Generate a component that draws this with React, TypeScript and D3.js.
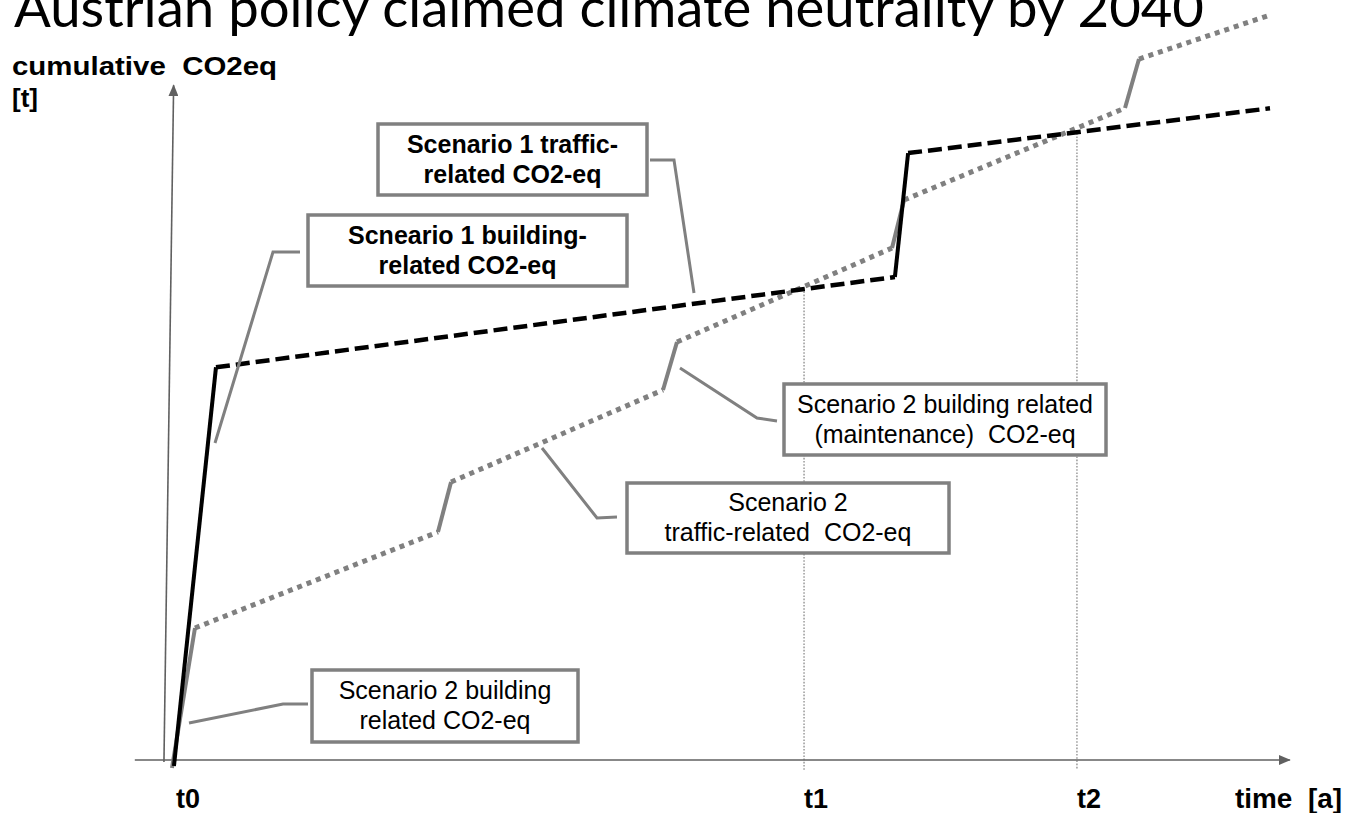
import React from "react";
import * as d3 from "d3";

const W = 1346;
const H = 813;

const titleText = "Austrian policy claimed climate neutrality by 2040";
const yAxisTitle = ["cumulative  CO2eq", "[t]"];
const xAxisTitle = "time  [a]";
const tickLabels = ["t0", "t1", "t2"];
const tickTimes = [0.27, 57.64, 82.45];
const guideTimes = [57.64, 82.45];
const guideTops = [67.4, 90.0];

// Scenario 1 – building (solid) and traffic (dashed) phases
const s1Time = [0.36, 4.18, 65.9, 67.1, 100];
const s1CO2 = [-0.86, 56.1, 69.0, 86.7, 93.1];
const s1Style = ["solid", "dashed", "solid", "dashed"];

// Scenario 2 – building/maintenance (solid) and traffic (dotted) phases
const s2Time = [0.18, 2.27, 24.36, 25.55, 44.82, 46.09, 65.64, 66.73, 86.82, 88.09, 100];
const s2CO2 = [-1.14, 18.86, 32.57, 39.71, 52.86, 59.71, 73.14, 80.0, 93.14, 100.14, 106.43];
const s2Style = ["solid", "dotted", "solid", "dotted", "solid", "dotted", "solid", "dotted", "solid", "dotted"];

const calloutTexts = [
  ["Scenario 1 traffic-", "related CO2-eq"],
  ["Scneario 1 building-", "related CO2-eq"],
  ["Scenario 2 building related", "(maintenance)  CO2-eq"],
  ["Scenario 2", "traffic-related  CO2-eq"],
  ["Scenario 2 building", "related CO2-eq"],
];
const calloutBold = [true, true, false, false, false];

// layout (pixels)
const calloutBoxes = [
  [378, 124, 647, 195],
  [308, 215, 627, 286],
  [784, 384, 1106, 455],
  [627, 483, 949, 553],
  [312, 670, 578, 742],
];
const calloutLeaders = [
  [[650, 160], [674, 160], [694, 293]],
  [[300, 252], [273, 252], [215, 443]],
  [[777, 421], [757, 418], [680, 368]],
  [[617, 517], [597, 518], [542, 448]],
  [[308, 704], [283, 704], [189, 723]],
];

const x = d3.scaleLinear().domain([0, 100]).range([170, 1270]);
const y = d3.scaleLinear().domain([0, 100]).range([760, 60]);

const GREY = "#808080";
const AXIS = "#606060";
const FONT = "'Liberation Sans', Arial, sans-serif";

function segments(ts: number[], vs: number[], styles: string[]) {
  const line = d3.line<[number, number]>().x((d) => x(d[0])).y((d) => y(d[1]));
  return styles.map((s, i) => ({
    style: s,
    d: line([
      [ts[i], vs[i]],
      [ts[i + 1], vs[i + 1]],
    ]) as string,
  }));
}

export default function App() {
  const seg1 = segments(s1Time, s1CO2, s1Style);
  const seg2 = segments(s2Time, s2CO2, s2Style);
  const leaderLine = d3.line<number[]>().x((d) => d[0]).y((d) => d[1]);

  const yAxisBottom = [-0.55, -0.3];
  const yAxisTop = [0.33, 96.4];
  const xAxisLeft = -3.2;
  const xAxisRight = 101.8;

  return (
    <svg
      width={W}
      height={H}
      viewBox={`0 0 ${W} ${H}`}
      style={{ position: "absolute", left: 0, top: 0, background: "#fff" }}
    >
      <defs>
        <marker id="arr" viewBox="0 0 12 10" refX="11" refY="5" markerWidth="12" markerHeight="10" markerUnits="userSpaceOnUse" orient="auto">
          <path d="M0,0 L12,5 L0,10 Z" fill={AXIS} />
        </marker>
      </defs>
      <rect x={0} y={0} width={W} height={H} fill="#fff" />

      <text x={14} y={27} fontFamily="Lato, 'Open Sans', sans-serif" fontSize={54} textLength={1190} lengthAdjust="spacingAndGlyphs" fill="#000">
        {titleText}
      </text>

      <text x={12} y={75} fontFamily={FONT} fontWeight="bold" fontSize={26} textLength={265} lengthAdjust="spacingAndGlyphs" fill="#000" style={{ whiteSpace: "pre" }}>
        {yAxisTitle[0]}
      </text>
      <text x={12} y={107} fontFamily={FONT} fontWeight="bold" fontSize={26} fill="#000">
        {yAxisTitle[1]}
      </text>

      {/* guides */}
      {guideTimes.map((t, i) => (
        <line key={"g" + i} x1={x(t)} x2={x(t)} y1={y(guideTops[i])} y2={770} stroke="#8a8a8a" strokeWidth={1.3} strokeDasharray="1.6 1.6" />
      ))}

      {/* axes */}
      <line x1={x(xAxisLeft)} x2={x(xAxisRight)} y1={y(0)} y2={y(0)} stroke={AXIS} strokeWidth={1.6} markerEnd="url(#arr)" />
      <line x1={x(yAxisBottom[0])} y1={y(yAxisBottom[1])} x2={x(yAxisTop[0])} y2={y(yAxisTop[1])} stroke={AXIS} strokeWidth={1.6} markerEnd="url(#arr)" />

      {/* Scenario 2 */}
      {seg2.map((s, i) => (
        <path key={"s2" + i} d={s.d} fill="none" stroke={GREY} strokeWidth={s.style === "dotted" ? 5 : 4} strokeDasharray={s.style === "dotted" ? "5 5" : undefined} />
      ))}
      {/* Scenario 1 */}
      {seg1.map((s, i) => (
        <path key={"s1" + i} d={s.d} fill="none" stroke="#000" strokeWidth={s.style === "dashed" ? 4.5 : 4} strokeDasharray={s.style === "dashed" ? "14 6" : undefined} />
      ))}

      {/* callouts */}
      {calloutLeaders.map((pts, i) => (
        <path key={"l" + i} d={leaderLine(pts) as string} fill="none" stroke={GREY} strokeWidth={3} />
      ))}
      {calloutBoxes.map((b, i) => {
        const cx = (b[0] + b[2]) / 2;
        const cy = (b[1] + b[3]) / 2;
        return (
          <g key={"b" + i}>
            <rect x={b[0]} y={b[1]} width={b[2] - b[0]} height={b[3] - b[1]} fill="#fff" stroke={GREY} strokeWidth={3.5} />
            {calloutTexts[i].map((t, j) => (
              <text key={j} x={cx} y={cy - 7 + j * 30} textAnchor="middle" fontFamily={FONT} fontWeight={calloutBold[i] ? "bold" : "normal"} fontSize={25} fill="#000" style={{ whiteSpace: "pre" }}>
                {t}
              </text>
            ))}
          </g>
        );
      })}

      {/* tick labels */}
      {tickLabels.map((t, i) => (
        <text key={"t" + i} x={x(tickTimes[i]) + (i === 0 ? 3 : 0)} y={808} fontFamily={FONT} fontWeight="bold" fontSize={27} fill="#000">
          {t}
        </text>
      ))}
      <text x={1235} y={808} fontFamily={FONT} fontWeight="bold" fontSize={27} textLength={107} lengthAdjust="spacingAndGlyphs" fill="#000" style={{ whiteSpace: "pre" }}>
        {xAxisTitle}
      </text>
    </svg>
  );
}
